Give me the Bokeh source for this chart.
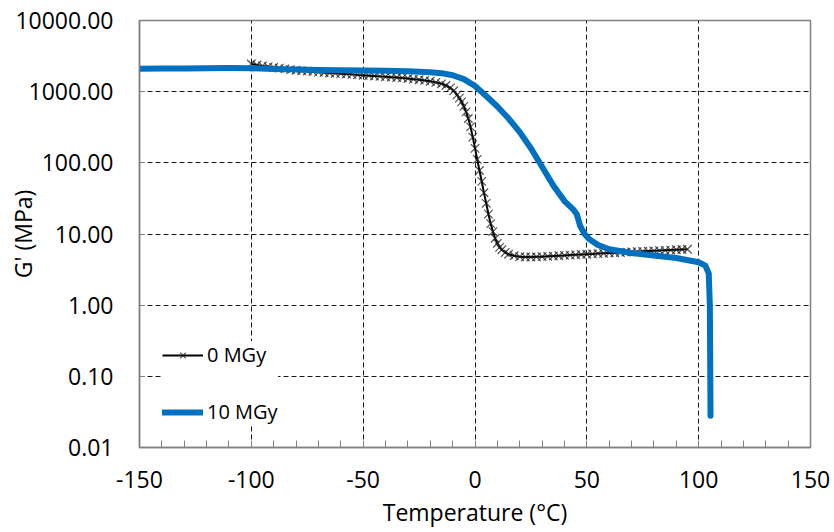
from bokeh.plotting import figure
from bokeh.models import Range1d, FixedTicker, NumeralTickFormatter
from bokeh.embed import file_html
from bokeh.resources import INLINE

# ---- data ----
black_T = [-100, -97.5, -95, -92.5, -90, -87.5, -85, -82.5, -80, -77.5,
           -75, -72.5, -70, -67.5, -65, -62.5, -60, -57.5, -55, -52.5,
           -50, -47.5, -45, -42.5, -40, -37.5, -35, -32.5, -30, -27.5,
           -25, -22.5, -20, -17.5, -15,
           -13, -11, -9.5, -8, -7, -6, -5, -4, -3, -2, -1, 0,
           1, 2, 3, 4, 5, 6, 7, 8, 9, 10, 11, 12,
           13.5, 15,
           17.5, 20, 22.5, 25, 27.5, 30, 32.5, 35, 37.5, 40,
           42.5, 45, 47.5, 50, 52.5, 55, 57.5, 60, 62.5, 65,
           67.5, 70, 72.5, 75, 77.5, 80, 82.5, 85, 87.5, 90,
           92.5, 95]
black_G = [2450, 2370, 2300, 2250, 2200, 2140, 2090, 2040, 2000, 1970,
           1940, 1910, 1880, 1860, 1830, 1810, 1790, 1770, 1750, 1720,
           1700, 1680, 1660, 1640, 1620, 1600, 1580, 1560, 1530, 1500,
           1470, 1440, 1400, 1350, 1290,
           1220, 1130, 1030, 900, 810, 720, 620, 520, 420, 320, 230, 160,
           112, 78, 55, 38, 27, 19, 14, 10.8, 8.7, 7.4, 6.5, 6.0,
           5.5, 5.2,
           4.95, 4.8, 4.75, 4.75, 4.78, 4.8, 4.85, 4.9, 4.95, 5.0,
           5.05, 5.1, 5.15, 5.2, 5.25, 5.3, 5.35, 5.4, 5.45, 5.5,
           5.55, 5.6, 5.65, 5.7, 5.75, 5.8, 5.85, 5.9, 5.95, 6.0,
           6.05, 6.1]

blue_T = [-150, -140, -130, -120, -110, -100, -90, -80, -70, -60, -50, -40,
          -30, -20, -15, -10, -5, 0, 5, 10, 15, 20, 25, 30, 35, 40, 44,
          45.5, 47, 49, 51, 55, 60, 70, 80, 90, 100, 103, 104.5, 105, 105.2,
          105.3]
blue_G = [2100, 2110, 2120, 2140, 2150, 2130, 2090, 2050, 2020, 2000, 1980,
          1960, 1930, 1880, 1820, 1700, 1500, 1200, 870, 620, 420, 270,
          160, 88, 48, 29, 22, 19, 13, 10, 8.5, 7, 6.1, 5.4, 5.0, 4.6, 4.0,
          3.6, 2.8, 1.0, 0.1, 0.028]

series_names = ["0 MGy", "10 MGy"]
x_title = "Temperature (°C)"
y_title = "G' (MPa)"
x_ticks = [-150, -100, -50, 0, 50, 100, 150]
x_minor = [-140, -130, -120, -110, -90, -80, -70, -60, -40, -30, -20, -10,
           10, 20, 30, 40, 60, 70, 80, 90, 110, 120, 130, 140]
y_ticks = [0.01, 0.1, 1, 10, 100, 1000, 10000]

FONT = "Open Sans"
FRAME = "#808080"

p = figure(width=834, height=532, x_range=Range1d(-150, 150),
           y_range=Range1d(0.01, 10000), y_axis_type="log",
           output_backend="svg", toolbar_location=None,
           min_border_left=139, min_border_right=24,
           min_border_top=20, min_border_bottom=85)

p.background_fill_color = "white"
p.border_fill_color = "white"
p.outline_line_color = FRAME
p.outline_line_width = 1.5

# grids
p.xgrid.ticker = FixedTicker(ticks=x_ticks[1:-1])
p.ygrid.ticker = FixedTicker(ticks=y_ticks[1:-1])
for g in (p.xgrid, p.ygrid):
    g.grid_line_color = "black"
    g.grid_line_dash = "5 3"
    g.grid_line_width = 1
    g.grid_line_alpha = 0.9

# x axis
xa = p.xaxis[0]
xa.ticker = FixedTicker(ticks=x_ticks, minor_ticks=x_minor)
xa.formatter = NumeralTickFormatter(format="0")
xa.axis_line_color = FRAME
xa.axis_line_width = 1.5
xa.major_tick_line_color = FRAME
xa.minor_tick_line_color = FRAME
xa.major_tick_in = 7
xa.major_tick_out = 0
xa.minor_tick_in = 7
xa.minor_tick_out = 0
xa.major_label_text_font = FONT
xa.major_label_text_font_size = "23px"
xa.major_label_text_color = "black"
xa.major_label_standoff = 23
xa.axis_label = x_title
xa.axis_label_text_font = FONT
xa.axis_label_text_font_size = "23px"
xa.axis_label_text_font_style = "normal"
xa.axis_label_text_color = "black"
xa.axis_label_standoff = 5

# y axis
ya = p.yaxis[0]
ya.ticker = FixedTicker(ticks=y_ticks, minor_ticks=[])
ya.formatter = NumeralTickFormatter(format="0.00")
ya.axis_line_color = FRAME
ya.axis_line_width = 1.5
ya.major_tick_line_color = FRAME
ya.major_tick_in = 5
ya.major_tick_out = 0
ya.minor_tick_line_color = None
ya.major_label_text_font = FONT
ya.major_label_text_font_size = "23px"
ya.major_label_text_color = "black"
ya.major_label_standoff = 26
ya.axis_label = y_title
ya.axis_label_text_font = FONT
ya.axis_label_text_font_size = "23px"
ya.axis_label_text_font_style = "normal"
ya.axis_label_text_color = "black"
ya.axis_label_standoff = -27

# series
p.line(black_T, black_G, line_color="black", line_width=2,
       legend_label=series_names[0])
p.scatter(black_T, black_G, marker="x", size=12, line_color="#1a1a1a",
          line_width=1.2, line_alpha=0.75, legend_label=series_names[0])
p.line(blue_T, blue_G, line_color="#0070C0", line_width=6,
       line_cap="round", line_join="round", legend_label=series_names[1])

lg = p.legend[0]
lg.location = (23, 22)
lg.border_line_color = None
lg.background_fill_color = "white"
lg.background_fill_alpha = 1.0
lg.padding = 23
lg.spacing = 30
lg.glyph_width = 41
lg.glyph_height = 20
lg.label_height = 20
lg.label_standoff = 4
lg.label_text_font = FONT
lg.label_text_font_size = "20px"
lg.label_text_color = "black"

open("out.html", "w").write(file_html(p, INLINE))
